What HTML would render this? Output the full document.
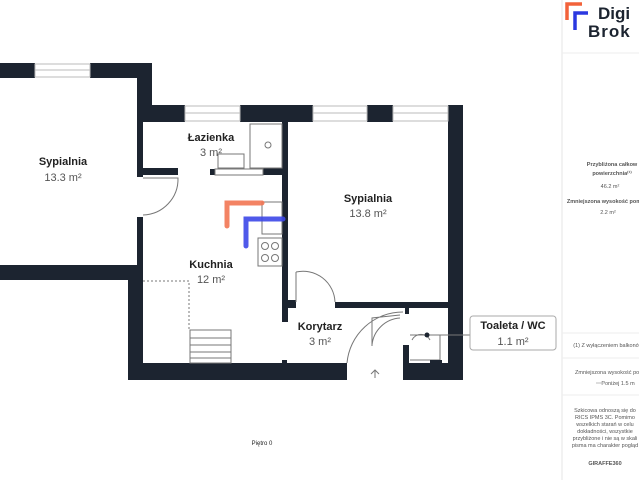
<!DOCTYPE html>
<html><head><meta charset="utf-8"><style>
html,body{margin:0;padding:0;background:#fff;width:639px;height:480px;overflow:hidden}
svg{display:block}
text{font-family:"Liberation Sans",sans-serif}
</style></head><body>
<svg width="639" height="480" viewBox="0 0 639 480">
<rect width="639" height="480" fill="#fff"/>
<g fill="#1c2430">
<rect x="0" y="63" width="35" height="15"/>
<rect x="90" y="63" width="62" height="15"/>
<rect x="137" y="63" width="15" height="59"/>
<rect x="137" y="105" width="48" height="17"/>
<rect x="240" y="105" width="73" height="17"/>
<rect x="367" y="105" width="26" height="17"/>
<rect x="448" y="105" width="15" height="275"/>
<rect x="137" y="120" width="6" height="57"/>
<rect x="137" y="217" width="6" height="48"/>
<rect x="0" y="265" width="143" height="15"/>
<rect x="128" y="265" width="15" height="115"/>
<rect x="128" y="363" width="219" height="17"/>
<rect x="403" y="363" width="60" height="17"/>
<rect x="403" y="345" width="6" height="35"/>
<rect x="143" y="168" width="35" height="7"/>
<rect x="210" y="169" width="5" height="6"/>
<rect x="263" y="168" width="25" height="7"/>
<rect x="282" y="122" width="6" height="200"/>
<rect x="282" y="300" width="14" height="8"/>
<rect x="335" y="302" width="115" height="6"/>
<rect x="405" y="308" width="4" height="6"/>
<rect x="282" y="360" width="5" height="5"/>
</g>
<g fill="none" stroke="#bbb" stroke-width="1">
<rect x="35" y="64" width="55" height="13"/><line x1="35" y1="70" x2="90" y2="70"/>
<rect x="185" y="106" width="55" height="15"/><line x1="185" y1="113" x2="240" y2="113"/>
<rect x="313" y="106" width="54" height="15"/><line x1="313" y1="113" x2="367" y2="113"/>
<rect x="393" y="106" width="55" height="15"/><line x1="393" y1="113" x2="448" y2="113"/>
</g>
<g fill="none" stroke="#777" stroke-width="1">
<path d="M143 178 L178 178 A36 36 0 0 1 143 215"/>
<path d="M296 272 L296 302 M296 272 A32 32 0 0 1 335 302"/>
<path d="M347 363 A56 56 0 0 1 403 312 M372 346 L372 318 L400 315"/>
<path d="M372 345 A30 30 0 0 1 400 318"/>
<rect x="250" y="124" width="32" height="44"/>
<circle cx="268" cy="145" r="3"/>
<rect x="218" y="154" width="26" height="14"/>
<rect x="215" y="169" width="48" height="6"/>
<rect x="262" y="202" width="20" height="32"/>
<rect x="258" y="238" width="24" height="28"/>
<circle cx="265" cy="246" r="3.5"/><circle cx="275" cy="246" r="3.5"/>
<circle cx="265" cy="258" r="3.5"/><circle cx="275" cy="258" r="3.5"/>
<path d="M143 281 L189 281 L189 330" stroke-dasharray="2 2"/>
<rect x="190" y="330" width="41" height="33"/>
<path d="M190 338 H231 M190 345 H231 M190 352 H231 M190 358 H231"/>
<path d="M410 335 L440 335 L440 360 L410 360 M412 340 A10 10 0 0 1 430 340"/>
<path d="M427 335 L470 335"/>
<path d="M375 378 L375 370 M371 374 L375 370 L379 374"/>
</g>
<circle cx="427" cy="335" r="2.5" fill="#1c2430"/>
<rect x="430" y="360" width="12" height="4" fill="#1c2430"/>
<path d="M227 226 V203 H262" fill="none" stroke="#f27653" stroke-width="5" stroke-linecap="round" opacity="0.9"/>
<path d="M246 246 V219 H283" fill="none" stroke="#3c47e8" stroke-width="5" stroke-linecap="round" opacity="0.9"/>
<g text-anchor="middle" fill="#222">
<text x="63" y="165" font-size="11" font-weight="bold">Sypialnia</text>
<text x="63" y="181" font-size="11" fill="#555">13.3 m²</text>
<text x="211" y="141" font-size="11" font-weight="bold">Łazienka</text>
<text x="211" y="156" font-size="11" fill="#555">3 m²</text>
<text x="211" y="268" font-size="11" font-weight="bold">Kuchnia</text>
<text x="211" y="283" font-size="11" fill="#555">12 m²</text>
<text x="368" y="202" font-size="11" font-weight="bold">Sypialnia</text>
<text x="368" y="217" font-size="11" fill="#555">13.8 m²</text>
<text x="320" y="330" font-size="11" font-weight="bold">Korytarz</text>
<text x="320" y="345" font-size="11" fill="#555">3 m²</text>
<text x="513" y="329" font-size="11" font-weight="bold">Toaleta / WC</text>
<text x="513" y="345" font-size="11" fill="#555">1.1 m²</text>
<text x="262" y="445" font-size="6">Piętro 0</text>
</g>
<rect x="470" y="316" width="86" height="34" rx="3" fill="none" stroke="#aaa"/>
<line x1="562" y1="0" x2="562" y2="480" stroke="#e6e6e6"/>
<line x1="562" y1="53" x2="639" y2="53" stroke="#eee"/>
<line x1="562" y1="333" x2="639" y2="333" stroke="#eee"/>
<line x1="562" y1="358" x2="639" y2="358" stroke="#eee"/>
<line x1="562" y1="395" x2="639" y2="395" stroke="#eee"/>
<path d="M567 20 V4 H582" fill="none" stroke="#f2623a" stroke-width="3.5"/>
<path d="M575 30 V13 H588" fill="none" stroke="#2b38e0" stroke-width="3.5"/>
<text x="598" y="19" font-size="17" font-weight="bold" fill="#1c2430">Digi</text>
<text x="588" y="37" font-size="17" font-weight="bold" fill="#1c2430" letter-spacing="1">Brok</text>
<g font-size="5.5" fill="#555" text-anchor="middle">
<text x="612" y="166" font-weight="bold">Przybliżona całkow</text>
<text x="612" y="175" font-weight="bold">powierzchnia⁽¹⁾</text>
<text x="610" y="188">46.2 m²</text>
<text x="604" y="203" font-weight="bold">Zmniejszona wysokość pom</text>
<text x="608" y="214">2.2 m²</text>
<text x="608" y="347">(1) Z wyłączeniem balkonów</text>
<text x="610" y="374">Zmniejszona wysokość pomi</text>
<text x="618" y="385">Poniżej 1.5 m</text>
<text x="605" y="412">Szkicowa odnoszą się do</text>
<text x="605" y="419">RICS IPMS 3C. Pomimo</text>
<text x="605" y="426">wszelkich starań w celu</text>
<text x="605" y="433">dokładności, wszystkie</text>
<text x="605" y="440">przybliżone i nie są w skali</text>
<text x="605" y="447">pisma ma charakter pogląd</text>
<text x="605" y="465" font-weight="bold">GIRAFFE360</text>
</g>
<line x1="596" y1="383" x2="606" y2="383" stroke="#bbb"/>
</svg>
</body></html>
